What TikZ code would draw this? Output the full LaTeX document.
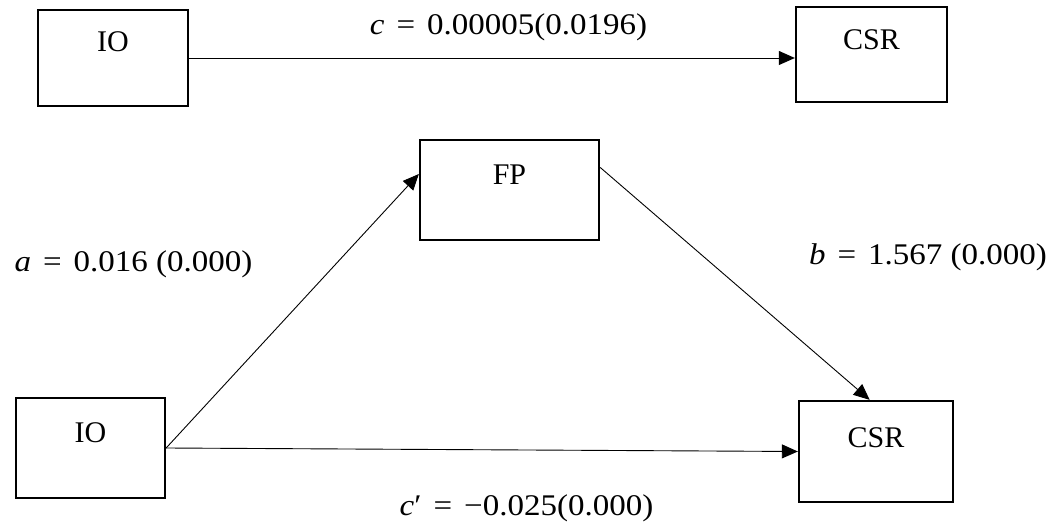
\documentclass[tikz,border=0pt]{standalone}
\usepackage{fontspec}
\setmainfont{Liberation Serif}
\newfontfamily\labfont[FakeStretch=1.1]{Liberation Serif}
\usetikzlibrary{arrows.meta}
\tikzset{
  varbox/.style={draw, line width=2.3pt, inner sep=0pt, align=center,
    font=\fontsize{30}{36}\selectfont},
  conn/.style={line width=0.9pt, -{Triangle[length=16pt,width=14pt]}},
  coef/.style={inner sep=0pt, anchor=base, font=\labfont\fontsize{30}{36}\selectfont},
}
\begin{document}
\begin{tikzpicture}[x=1pt,y=-1pt]
\useasboundingbox (0,0) rectangle (1058,526);
% top row
\node[varbox, text width=150pt, text height=42pt, text depth=54pt] (io1) at (113,58) {IO};
\node[varbox, text width=151pt, text height=43pt, text depth=52pt] (csr1) at (871.5,54.5) {CSR};
% bottom triangle
\node[varbox, text width=179pt, text height=45pt, text depth=55pt] (fp) at (509.5,190) {FP};
\node[varbox, text width=149pt, text height=45pt, text depth=55pt] (io2) at (90.5,448) {IO};
\node[varbox, text width=154pt, text height=47pt, text depth=54pt] (csr2) at (876,451.5) {CSR};
% connectors
\draw[conn] (io1.east) -- (io1.east -| csr1.west);
\draw[conn] (io2.east) -- (fp.170);
\draw[conn] (fp.14) -- (csr2.97);
\draw[conn] (io2.east) -- (csr2.west);
% labels
\node[coef] (lc) at (508.5,35) {\textit{c}\hspace{0.4em}=\hspace{0.4em}0.00005(0.0196)};
\node[coef] (la) at (133.5,272) {\textit{a}\hspace{0.4em}=\hspace{0.4em}0.016 (0.000)};
\node[coef] (lb) at (928,265) {\textit{b}\hspace{0.4em}=\hspace{0.4em}1.567 (0.000)};
\node[coef] (lcp) at (526.5,515) {\textit{c}′\hspace{0.4em}=\hspace{0.4em}−0.025(0.000)};
\end{tikzpicture}
\end{document}
